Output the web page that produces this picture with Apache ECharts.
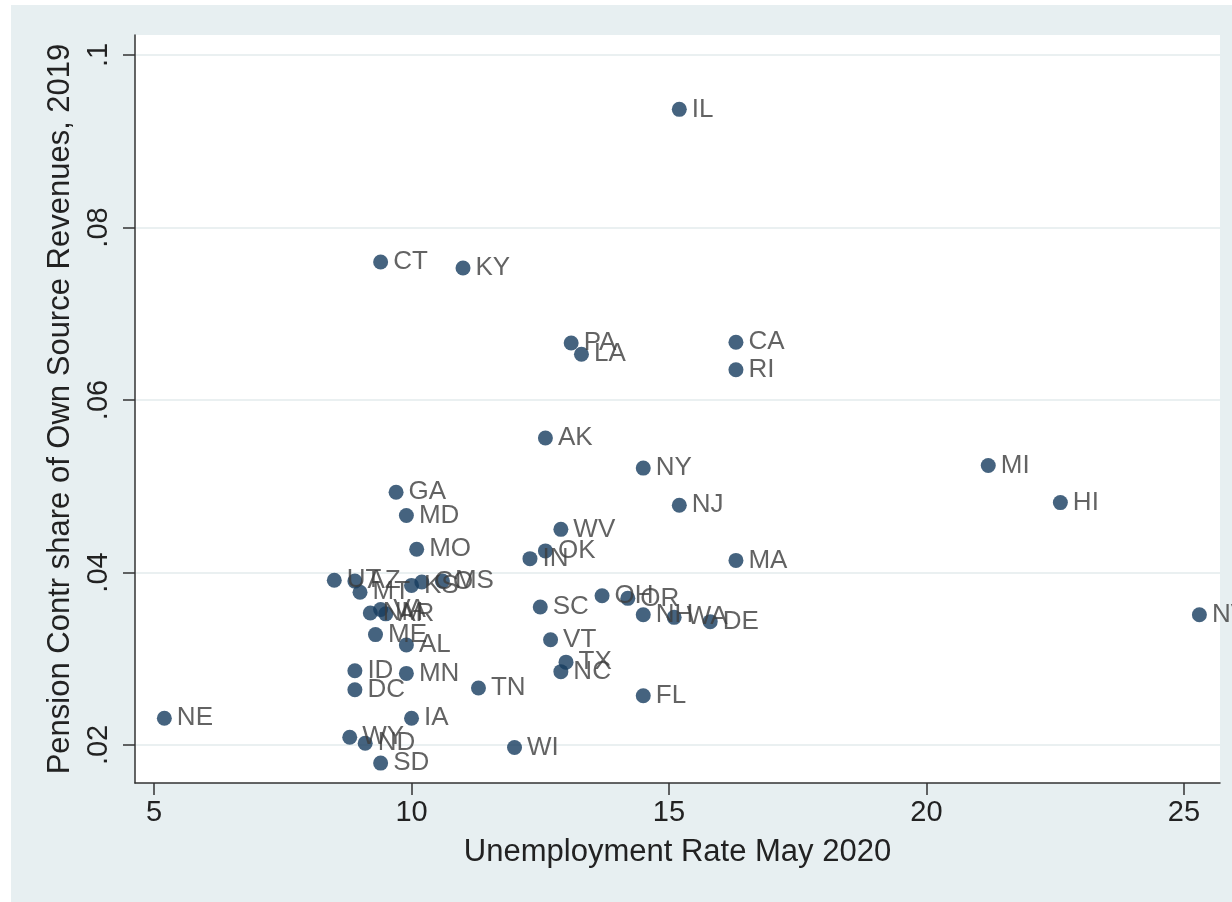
<!DOCTYPE html>
<html>
<head>
<meta charset="utf-8">
<title>Pension contributions vs unemployment</title>
<script src="https://cdn.jsdelivr.net/npm/echarts@6/dist/echarts.min.js"></script>
<style>
  html, body { margin: 0; padding: 0; background: #fff; }
  #chart {
    position: absolute;
    left: 11px;
    top: 5px;
    width: 1221px;
    height: 897px;
    background: #e7eff1;
  }
</style>
</head>
<body>
<div id="chart"></div>
<script>
// state labels
const states = [
  'AK', 'AL', 'AR', 'AZ', 'CA', 'CO', 'CT', 'DC', 'DE', 'FL',
  'GA', 'HI', 'IA', 'ID', 'IL', 'IN', 'KS', 'KY', 'LA', 'MA',
  'MD', 'ME', 'MI', 'MN', 'MO', 'MS', 'MT', 'NC', 'ND', 'NE',
  'NH', 'NJ', 'NM', 'NV', 'NY', 'OH', 'OK', 'OR', 'PA', 'RI',
  'SC', 'SD', 'TN', 'TX', 'UT', 'VA', 'VT', 'WA', 'WI', 'WV', 'WY'
];

// Unemployment Rate May 2020
const unemployment = [
  12.6, 9.9, 9.5, 8.9, 16.3, 10.2, 9.4, 8.9, 15.8, 14.5,
  9.7, 22.6, 10.0, 8.9, 15.2, 12.3, 10.0, 11.0, 13.3, 16.3,
  9.9, 9.3, 21.2, 9.9, 10.1, 10.6, 9.0, 12.9, 9.1, 5.2,
  14.5, 15.2, 9.2, 25.3, 14.5, 13.7, 12.6, 14.2, 13.1, 16.3,
  12.5, 9.4, 11.3, 13.0, 8.5, 9.4, 12.7, 15.1, 12.0, 12.9, 8.8
];

// Pension Contr share of Own Source Revenues, 2019
const pensionShare = [
  0.0556, 0.0316, 0.0352, 0.0390, 0.0667, 0.0389, 0.0760, 0.0264, 0.0343, 0.0257,
  0.0493, 0.0481, 0.0231, 0.0286, 0.0937, 0.0416, 0.0385, 0.0753, 0.0653, 0.0414,
  0.0466, 0.0328, 0.0524, 0.0283, 0.0427, 0.0390, 0.0377, 0.0285, 0.0202, 0.0231,
  0.0351, 0.0478, 0.0353, 0.0351, 0.0521, 0.0373, 0.0425, 0.0370, 0.0666, 0.0635,
  0.0360, 0.0179, 0.0266, 0.0296, 0.0391, 0.0357, 0.0322, 0.0348, 0.0197, 0.0450, 0.0209
];

const xTicks = [5, 10, 15, 20, 25];
const yTicks = [0.02, 0.04, 0.06, 0.08, 0.1];

const font = '"Liberation Sans", Arial, Helvetica, sans-serif';

const points = states.map((s, i) => [unemployment[i], pensionShare[i], s]);

const chart = echarts.init(document.getElementById('chart'), null, { renderer: 'canvas' });

const option = {
  animation: false,
  backgroundColor: 'transparent',
  textStyle: { fontFamily: font },
  grid: {
    show: true,
    left: 124,
    top: 30,
    right: 12,
    bottom: 119,
    backgroundColor: '#ffffff',
    borderWidth: 0
  },
  xAxis: {
    type: 'value',
    min: 4.63,
    max: 25.7,
    name: 'Unemployment Rate May 2020',
    nameLocation: 'middle',
    nameGap: 54,
    nameTextStyle: { fontSize: 31, color: '#222', fontFamily: font },
    axisLine: { show: true, onZero: false, lineStyle: { color: '#333', width: 1.5 } },
    axisTick: { show: true, length: 12, customValues: xTicks, lineStyle: { color: '#333', width: 1.5 } },
    axisLabel: {
      customValues: xTicks,
      fontSize: 29,
      color: '#222',
      margin: 15,
      fontFamily: font
    },
    splitLine: { show: false }
  },
  yAxis: {
    type: 'value',
    min: 0.01559,
    max: 0.10232,
    name: 'Pension Contr share of Own Source Revenues, 2019',
    nameLocation: 'middle',
    nameGap: 57,
    nameTextStyle: { fontSize: 31, color: '#222', fontFamily: font },
    axisLine: { show: true, onZero: false, lineStyle: { color: '#333', width: 1.5 } },
    axisTick: { show: true, length: 12, customValues: yTicks, lineStyle: { color: '#333', width: 1.5 } },
    axisLabel: {
      customValues: yTicks,
      rotate: 90,
      fontSize: 29,
      color: '#222',
      margin: 22,
      fontFamily: font,
      formatter: v => v.toFixed(2).replace(/0$/, '').replace(/^0/, '')
    },
    splitLine: { show: true, lineStyle: { color: '#e3ebed', width: 1.5 } }
  },
  series: [
    {
      type: 'scatter',
      data: points,
      symbol: 'circle',
      symbolSize: 15,
      itemStyle: { color: '#163c5f' },
      label: {
        show: true,
        position: 'right',
        distance: 5,
        formatter: p => p.data[2],
        fontSize: 26,
        color: '#3c3c3c',
        fontFamily: font
      },
      emphasis: { disabled: true }
    }
  ]
};

chart.setOption(option);

window.addEventListener('resize', () => chart.resize());
</script>
</body>
</html>
